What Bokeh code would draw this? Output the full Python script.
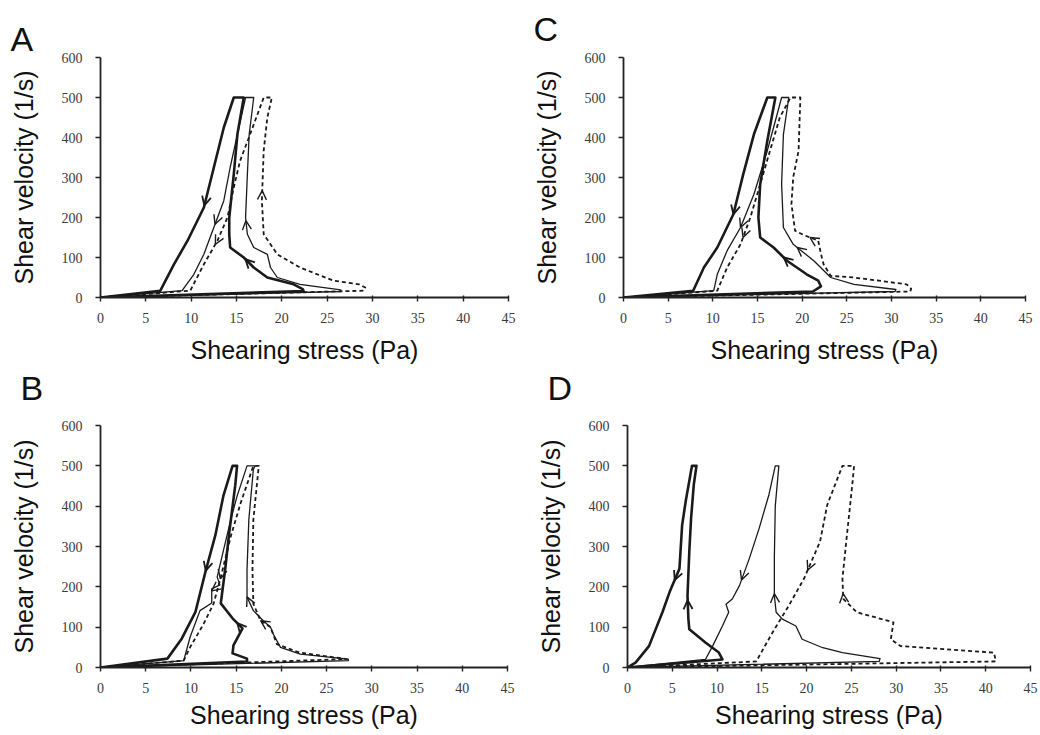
import numpy as np
from bokeh.plotting import figure
from bokeh.models import Range1d, Arrow, OpenHead, FixedTicker, Title
from bokeh.layouts import column, row
from bokeh.embed import file_html
from bokeh.resources import INLINE

# ---------------- data ----------------
X_TICKS = [0, 5, 10, 15, 20, 25, 30, 35, 40, 45]
Y_TICKS = [0, 100, 200, 300, 400, 500, 600]
X_TITLE = "Shearing stress (Pa)"
Y_TITLE = "Shear velocity (1/s)"
PANEL_LETTERS = ["A", "C", "B", "D"]

# Panel A (each loop: origin -> peak at low rate -> up branch -> 500 1/s -> down branch -> origin)
A_thick_x = [0, 22.4, 22.3, 21.3, 18.4, 16.9, 15.8, 14.3, 14.2, 14.2, 14.7, 15.1, 15.8, 14.7, 13.6, 12.5, 11.4, 9.6, 8.1, 6.6, 0]
A_thick_y = [0, 16, 21, 33, 50, 75, 100, 125, 158, 200, 308, 408, 500, 500, 425, 325, 225, 142, 83, 17, 0]
A_thin_x = [0, 26.5, 26.5, 22, 19.5, 18.75, 18.4, 16.9, 16.2, 16, 16.2, 16.4, 16.9, 16, 15.1, 14.3, 13.6, 12.5, 11.4, 10.3, 9, 0]
A_thin_y = [0, 15, 19, 33, 50, 75, 108, 125, 158, 200, 308, 408, 500, 500, 408, 325, 242, 175, 108, 58, 17, 0]
A_dash_x = [0, 29, 29.2, 28.5, 25.7, 22, 19.5, 18, 17.8, 18, 18.4, 18.9, 18, 16.5, 15.4, 14.7, 14, 12.9, 11.4, 9.9, 0]
A_dash_y = [0, 17, 25, 33, 42, 75, 108, 158, 242, 367, 450, 500, 500, 408, 342, 275, 200, 142, 83, 17, 0]

# Panel C
C_thick_x = [0, 21.2, 22.1, 21.8, 20.5, 18.3, 16.8, 15.3, 15.1, 15.3, 16.1, 17, 16.1, 14.6, 13.4, 12.3, 10.5, 9, 7.8, 0]
C_thick_y = [0, 15, 28, 42, 58, 92, 125, 150, 200, 283, 392, 500, 500, 408, 308, 208, 125, 75, 17, 0]
C_thin_x = [0, 30.4, 30.5, 25.8, 23.2, 21.3, 19, 17.9, 17.7, 17.9, 18.5, 17.7, 16.8, 16.1, 14.6, 13.1, 11.6, 10.5, 10.1, 0]
C_thin_y = [0, 15, 20, 33, 50, 92, 133, 175, 283, 408, 500, 500, 425, 367, 258, 175, 117, 58, 17, 0]
C_dash_x = [0, 32.1, 32.2, 31.7, 25.8, 23.2, 22.4, 22.2, 22, 21.8, 20.3, 19.2, 18.8, 19, 19.6, 19.8, 18.7, 17.5, 16.4, 15.3, 14.2, 13.1, 11.6, 10.5, 0]
C_dash_y = [0, 15, 22, 33, 50, 54, 83, 100, 120, 142, 155, 167, 234, 301, 367, 500, 500, 450, 367, 283, 200, 133, 75, 17, 0]

# Panel B
B_thick_x = [0, 16.2, 16.2, 14.6, 14.7, 15.7, 14.6, 13.3, 13.8, 14.2, 14.9, 15.1, 14.6, 13.6, 12.7, 11.6, 10.5, 9.0, 7.4, 0]
B_thick_y = [0, 15, 22, 35, 55, 97, 122, 159, 246, 328, 452, 500, 500, 427, 328, 237, 138, 72, 22, 0]
B_thin_x = [0, 27.4, 27.4, 22.1, 19.9, 19.1, 18.8, 18, 16.9, 16.2, 16.2, 16.4, 16.9, 17.1, 16.2, 15.1, 14.4, 13.6, 12.9, 13.2, 12.3, 12.3, 11, 9.9, 9.2, 0]
B_thin_y = [0, 17, 21, 33, 50, 83, 100, 116, 141, 175, 242, 366, 491, 500, 500, 425, 366, 291, 224, 205, 195, 160, 141, 75, 17, 0]
B_dash_x = [0, 27.2, 22, 19.5, 18.8, 17.7, 16.9, 16.8, 16.9, 17.5, 16.9, 15.5, 14.4, 13.3, 12.5, 11.4, 9.9, 9.2, 0]
B_dash_y = [0, 21, 37, 58, 100, 116, 158, 242, 366, 500, 500, 408, 325, 224, 158, 108, 50, 17, 0]

# Panel D
D_thick_x = [0, 10.6, 10.2, 8.7, 6.9, 6.8, 6.7, 6.9, 7.1, 7.4, 7.7, 7.2, 6.5, 6.1, 5.8, 4.7, 3.9, 2.4, 0.9, 0]
D_thick_y = [0, 20, 37, 62, 95, 120, 178, 287, 370, 453, 500, 500, 412, 353, 245, 187, 137, 53, 12, 0]
D_thin_x = [0, 28.1, 28.2, 24, 21.8, 19.5, 18.8, 17.3, 16.6, 16.4, 16.4, 16.5, 16.9, 16.5, 15.8, 14.7, 13.6, 12.5, 11.7, 11, 11.3, 10.6, 9.5, 8.7, 0]
D_thin_y = [0, 15, 22, 37, 49, 70, 103, 120, 137, 178, 275, 400, 500, 500, 429, 345, 270, 203, 170, 157, 137, 103, 53, 20, 0]
D_dash_x = [0, 41.1, 41.1, 40.9, 30.5, 29.4, 29.7, 25.6, 24.1, 24, 24.5, 25.1, 25.3, 24, 22.3, 21.5, 19.7, 18, 16.2, 14.7, 14.4, 0]
D_dash_y = [0, 15, 20, 37, 53, 70, 112, 137, 170, 220, 328, 453, 500, 500, 403, 312, 220, 153, 87, 28, 15, 0]

# ---------------- styles ----------------
INK = "#1a1a1a"
STYLES = {
    "thick": dict(line_width=2.6, line_color=INK),
    "thin": dict(line_width=1.3, line_color=INK),
    "dash": dict(line_width=1.8, line_color=INK, line_dash="4 3"),
}
# arrow levels (shear velocity where direction arrows sit): (down branch, up branch)
ARROWS = {
    "A": {"thick": (230, 96), "thin": (183, 192), "dash": (133, 267)},
    "C": {"thick": (208, 100), "thin": (175, 125), "dash": (150, 150)},
    "B": {"thick": (240, 110), "thin": (190, 175), "dash": (220, 116)},
    "D": {"thick": (217, 167), "thin": (217, 183), "dash": (242, 183)},
}


def at_level(xs, ys, level, rising):
    for i in range(len(xs) - 1):
        y0, y1 = ys[i], ys[i + 1]
        if rising and y0 <= level <= y1 and y1 > y0:
            t = (level - y0) / (y1 - y0)
            return xs[i] + t * (xs[i + 1] - xs[i])
        if (not rising) and y1 <= level <= y0 and y0 > y1:
            t = (y0 - level) / (y0 - y1)
            return xs[i] + t * (xs[i + 1] - xs[i])
    return None


def add_arrows(p, xs, ys, levels, style):
    ys_arr = np.array(ys)
    top = int(np.argmax(ys_arr))
    last_top = len(ys) - 1 - int(np.argmax(ys_arr[::-1]))
    up_x, up_y = xs[1:top + 1], ys[1:top + 1]
    dn_x, dn_y = xs[last_top:], ys[last_top:]
    lw = 1.4 if style != "thick" else 1.8
    down_level, up_level = levels
    xe = at_level(dn_x, dn_y, down_level, False)
    xs_ = at_level(dn_x, dn_y, down_level + 14, False)
    if xe is not None and xs_ is not None:
        p.add_layout(Arrow(x_start=xs_, y_start=down_level + 14, x_end=xe, y_end=down_level,
                           line_alpha=0, end=OpenHead(size=9, line_width=lw, line_color=INK)))
    xe = at_level(up_x, up_y, up_level, True)
    xs_ = at_level(up_x, up_y, up_level - 14, True)
    if xe is not None and xs_ is not None:
        p.add_layout(Arrow(x_start=xs_, y_start=up_level - 14, x_end=xe, y_end=up_level,
                           line_alpha=0, end=OpenHead(size=9, line_width=lw, line_color=INK)))


def letter_title(text, offset, standoff, valign="bottom"):
    return Title(text=text, align="left", offset=offset, standoff=standoff, vertical_align=valign,
                 text_font="Liberation Sans", text_font_size="34px", text_font_style="normal",
                 text_color="#111111")


def make_panel(letter, loops, width, height, bl, br, bt, bb, xlabel_standoff):
    p = figure(width=width, height=height, x_range=Range1d(0, 45), y_range=Range1d(0, 600),
               output_backend="svg", toolbar_location=None,
               min_border_left=bl, min_border_right=br, min_border_top=bt, min_border_bottom=bb,
               background_fill_color="white", border_fill_color="white")
    p.grid.visible = False
    p.outline_line_color = None
    p.xaxis.ticker = FixedTicker(ticks=X_TICKS)
    p.yaxis.ticker = FixedTicker(ticks=Y_TICKS)
    p.xaxis.axis_label = X_TITLE
    p.yaxis.axis_label = Y_TITLE
    for ax in (p.xaxis, p.yaxis):
        ax.axis_line_width = 1.8
        ax.axis_line_color = "#222222"
        ax.major_tick_line_width = 1.4
        ax.major_tick_line_color = "#222222"
        ax.minor_tick_line_color = None
        ax.major_label_text_font = "Liberation Serif"
        ax.major_label_text_font_size = "14px"
        ax.major_label_text_color = "#3a3a3a"
        ax.axis_label_text_font = "Liberation Sans"
        ax.axis_label_text_font_size = "25px"
        ax.axis_label_text_font_style = "normal"
        ax.axis_label_text_color = "#111111"
    p.xaxis.major_tick_out = 4
    p.xaxis.major_tick_in = 2
    p.yaxis.major_tick_out = 5
    p.yaxis.major_tick_in = 0
    p.xaxis.major_label_standoff = 11
    p.xaxis.axis_label_standoff = xlabel_standoff
    p.yaxis.major_label_standoff = 13
    p.yaxis.axis_label_standoff = 21

    for name, (xs, ys) in loops.items():
        p.line(xs, ys, line_join="round", **STYLES[name])
        add_arrows(p, xs, ys, ARROWS[letter][name], name)
    return p


TOP_H = 419
pA = make_panel("A", {"thick": (A_thick_x, A_thick_y), "thin": (A_thin_x, A_thin_y), "dash": (A_dash_x, A_dash_y)},
                520, TOP_H, 100, 12, 57, TOP_H - 297, 10)
pC = make_panel("C", {"thick": (C_thick_x, C_thick_y), "thin": (C_thin_x, C_thin_y), "dash": (C_dash_x, C_dash_y)},
                520, TOP_H, 103, 15, 57, TOP_H - 297, 10)
pB = make_panel("B", {"thick": (B_thick_x, B_thick_y), "thin": (B_thin_x, B_thin_y), "dash": (B_dash_x, B_dash_y)},
                520, 735 - TOP_H, 100, 13, 425 - TOP_H, 68, 5)
pD = make_panel("D", {"thick": (D_thick_x, D_thick_y), "thin": (D_thin_x, D_thin_y), "dash": (D_dash_x, D_dash_y)},
                520, 735 - TOP_H, 107, 10, 425 - TOP_H, 68, 5)

# panel letters: A and C above their panels; B and D sit in the gap under the top row
pA.add_layout(letter_title("A", -90, 0), "above")
pC.add_layout(letter_title("C", -90, 16, "top"), "above")
pA.add_layout(letter_title("B", -80, 0), "below")
pC.add_layout(letter_title("D", -76, 1), "below")

layout = column(row(pA, pC), row(pB, pD))
open("out.html", "w").write(file_html(layout, INLINE))
